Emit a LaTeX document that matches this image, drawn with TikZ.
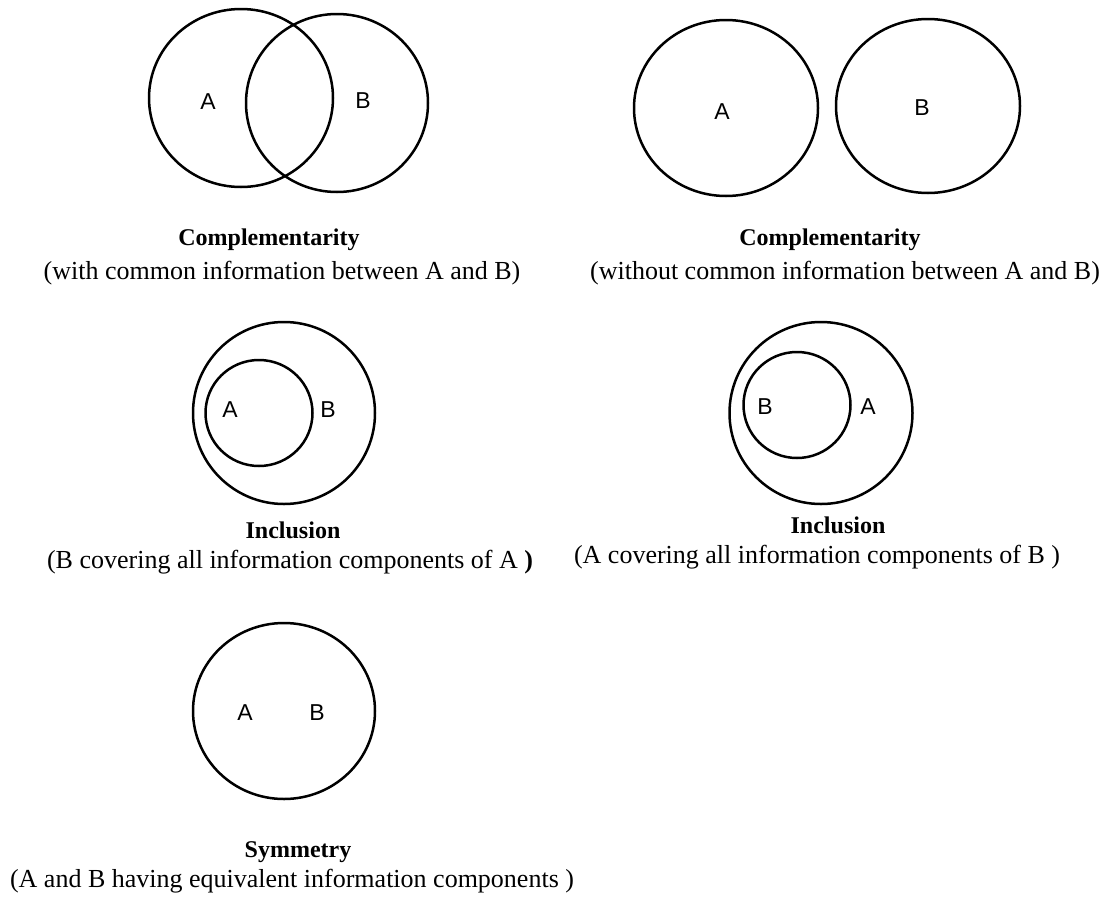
\documentclass[tikz,border=0pt]{standalone}
\usepackage{fontspec}
\setmainfont{Liberation Serif}
\newfontfamily\labfont{Liberation Sans}
\usetikzlibrary{shapes.geometric}
\begin{document}
\begin{tikzpicture}[x=1pt,y=-1pt,
  ring/.style={draw, ellipse, line width=2.5pt, inner sep=0pt},
  setlab/.style={font=\labfont\fontsize{23}{26}\selectfont, inner sep=0pt},
  title/.style={font=\bfseries\fontsize{24}{28}\selectfont, inner sep=0pt, anchor=base},
  sub/.style={font=\fontsize{26}{30}\selectfont, inner sep=0pt, anchor=base}]
\useasboundingbox (0,0) rectangle (1111,900);
% top-left
\node[ring, minimum width=184pt, minimum height=178pt] (c1a) at (241,98) {};
\node[ring, minimum width=182pt, minimum height=178pt] (c1b) at (337,103) {};
\node[setlab] (l1a) at (208,102) {A};
\node[setlab] (l1b) at (363,101) {B};
\node[title] (t1) at (269,245) {Complementarity};
\node[sub] (s1) at (282,279) {(with common information between A and B)};
% top-right
\node[ring, minimum width=184pt, minimum height=176pt] (c2a) at (726,108) {};
\node[ring, minimum width=184pt, minimum height=174pt] (c2b) at (928,106) {};
\node[setlab] (l2a) at (722,112) {A};
\node[setlab] (l2b) at (922,108) {B};
\node[title] (t2) at (830,245) {Complementarity};
\node[sub] (s2) at (845,279) {(without common information between A and B)};
% middle-left
\node[ring, minimum width=182pt, minimum height=182pt] (c3o) at (284,413) {};
\node[ring, minimum width=107pt, minimum height=106pt] (c3i) at (259,413) {};
\node[setlab] (l3a) at (230,410) {A};
\node[setlab] (l3b) at (328,410) {B};
\node[title] (t3) at (293,538) {Inclusion};
\node[sub] (s3) at (290,568) {(B covering all information components of A \textbf{)}};
% middle-right
\node[ring, minimum width=183pt, minimum height=182pt] (c4o) at (821,413) {};
\node[ring, minimum width=107pt, minimum height=106pt] (c4i) at (797,405) {};
\node[setlab] (l4b) at (765,407) {B};
\node[setlab] (l4a) at (868,407) {A};
\node[title] (t4) at (838,533) {Inclusion};
\node[sub] (s4) at (817,563) {(A covering all information components of B )};
% bottom
\node[ring, minimum width=182pt, minimum height=176pt] (c5) at (284,711) {};
\node[setlab] (l5a) at (245,713) {A};
\node[setlab] (l5b) at (317,713) {B};
\node[title] (t5) at (298,857) {Symmetry};
\node[sub] (s5) at (292,887) {(A and B having equivalent information components )};
\end{tikzpicture}
\end{document}
